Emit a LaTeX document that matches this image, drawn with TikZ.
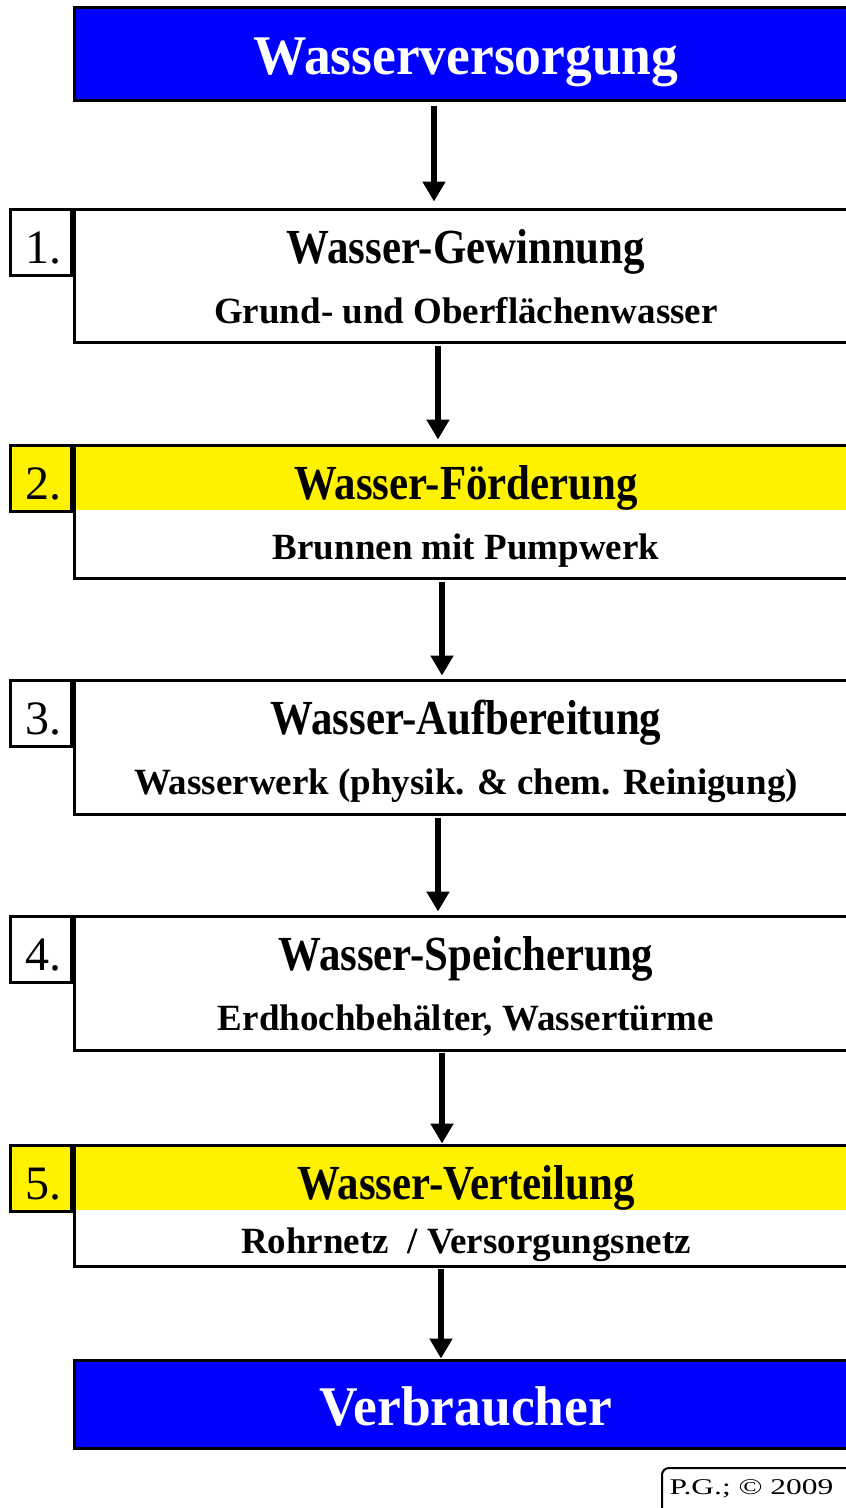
\documentclass[tikz,border=0pt]{standalone}
\usepackage{fontspec}
\setmainfont{Liberation Serif}
\newfontfamily\headfont[FakeStretch=0.955]{Liberation Serif}
\newfontfamily\titlefont[FakeStretch=0.875]{Liberation Serif}
\newfontfamily\pgfont[FakeStretch=1.4]{Liberation Serif}
\usetikzlibrary{arrows.meta,positioning}

\tikzset{
  headbox/.style={draw, line width=3pt, fill=blue, minimum width=784pt, inner sep=0pt},
  stepbox/.style={draw, line width=3pt, fill=white, minimum width=784pt, inner sep=0pt},
  yellowtop/.style={path picture={\fill[yellow] (path picture bounding box.north west)
      rectangle ([yshift=-65pt]path picture bounding box.north east);}},
  numbox/.style={draw, line width=3pt, minimum width=61pt, minimum height=66pt,
      inner sep=0pt, anchor=north east},
  headtext/.style={text=white, font=\headfont\bfseries\fontsize{56}{60}\selectfont, anchor=base},
  titletext/.style={font=\titlefont\bfseries\fontsize{49}{54}\selectfont, anchor=base},
  subtext/.style={font=\bfseries\fontsize{37}{42}\selectfont, anchor=base},
  numtext/.style={font=\fontsize{48}{52}\selectfont, anchor=base},
  flow/.style={line width=5.5pt, -{Triangle[width=22pt 0 0,length=20pt 0 0]}}
}

\begin{document}
\begin{tikzpicture}[x=1pt, y=-1pt]
        \clip (0,0) rectangle (846,1508);
        \fill[white] (0,0) rectangle (846,1508);
        % head
        \node[headbox, minimum height=93pt] (head) at (466,53.5) {};
        \node[headtext] (headlbl) at (466,74) {Wasserversorgung};
        % 1.
        \node[stepbox, minimum height=133pt] (s1) at (466,275.5) {};
        \node[numbox, fill=white] (n1) at (s1.north west) {};
        \node[numtext] (n1lbl) at (43,263) {1.};
        \node[titletext] (t1) at (466,263) {Wasser-Gewinnung};
        \node[subtext] (u1) at (466,323) {Grund- und Oberflächenwasser};
        % 2.
        \node[stepbox, yellowtop, minimum height=133pt] (s2) at (466,511.5) {};
        \node[numbox, fill=yellow] (n2) at (s2.north west) {};
        \node[numtext] (n2lbl) at (43,499) {2.};
        \node[titletext] (t2) at (466,499) {Wasser-Förderung};
        \node[subtext] (u2) at (466,559) {Brunnen mit Pumpwerk};
        % 3.
        \node[stepbox, minimum height=134pt] (s3) at (466,747) {};
        \node[numbox, fill=white] (n3) at (s3.north west) {};
        \node[numtext] (n3lbl) at (43,734) {3.};
        \node[titletext] (t3) at (466,734) {Wasser-Aufbereitung};
        \node[subtext] (u3) at (466,794) {Wasserwerk (physik. \& chem. Reinigung)};
        % 4.
        \node[stepbox, minimum height=134pt] (s4) at (466,983) {};
        \node[numbox, fill=white] (n4) at (s4.north west) {};
        \node[numtext] (n4lbl) at (43,970) {4.};
        \node[titletext] (t4) at (466,970) {Wasser-Speicherung};
        \node[subtext] (u4) at (466,1030) {Erdhochbehälter, Wassertürme};
        % 5.
        \node[stepbox, yellowtop, minimum height=121pt] (s5) at (466,1205.5) {};
        \node[numbox, fill=yellow] (n5) at (s5.north west) {};
        \node[numtext] (n5lbl) at (43,1199) {5.};
        \node[titletext] (t5) at (466,1199) {Wasser-Verteilung};
        \node[subtext] (u5) at (466,1253) {Rohrnetz~~/ Versorgungsnetz};
        % foot
        \node[headbox, minimum height=88pt] (foot) at (466,1404) {};
        \node[headtext] (footlbl) at (466,1425) {Verbraucher};
        % arrows
        \draw[flow] ([xshift=-32pt,yshift=-4pt]head.south) -- ([xshift=-32pt,yshift=6pt]s1.north);
        \draw[flow] ([xshift=-28pt,yshift=-2pt]s1.south) -- ([xshift=-28pt,yshift=4pt]s2.north);
        \draw[flow] ([xshift=-24pt,yshift=-2pt]s2.south) -- ([xshift=-24pt,yshift=3pt]s3.north);
        \draw[flow] ([xshift=-28pt,yshift=-2pt]s3.south) -- ([xshift=-28pt,yshift=3pt]s4.north);
        \draw[flow] ([xshift=-24pt,yshift=-1pt]s4.south) -- ([xshift=-24pt,yshift=0pt]s5.north);
        \draw[flow] ([xshift=-25pt,yshift=-1pt]s5.south) -- ([xshift=-25pt,yshift=0pt]foot.north);
        % copyright
        \node[draw, line width=2pt, rounded corners=7pt, minimum width=220pt, minimum height=80pt,
          anchor=north west] (pg) at (661,1467) {};
        \node[font=\pgfont\fontsize{22.5}{26}\selectfont, anchor=base west] (pglbl) at (666,1494) {P.G.; © 2009};
      \end{tikzpicture}
\end{document}
